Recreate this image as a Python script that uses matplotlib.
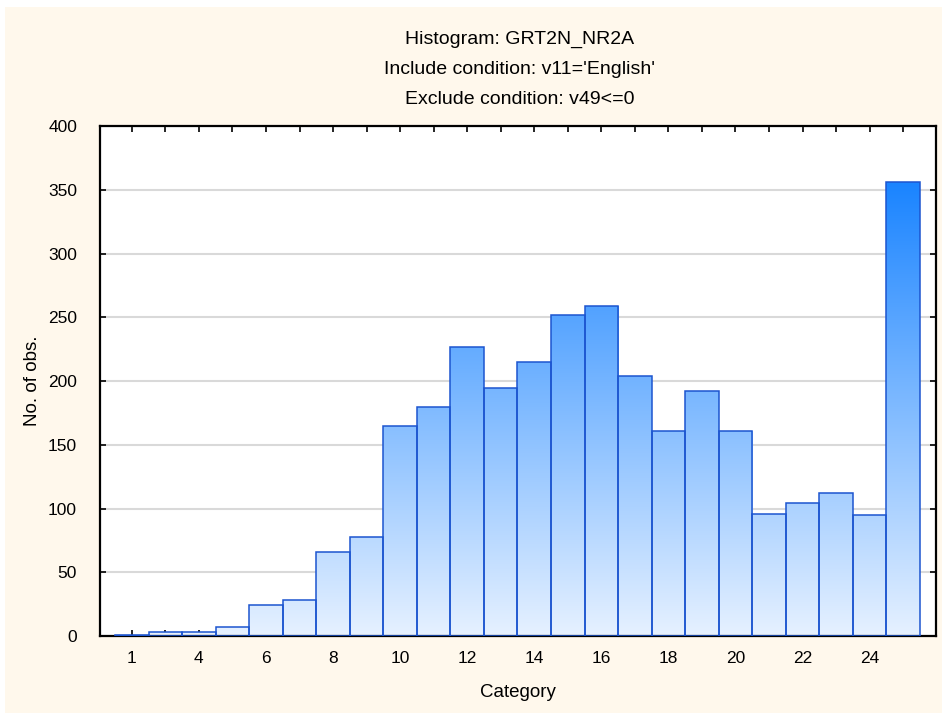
import numpy as np
import matplotlib
matplotlib.use("Agg")
import matplotlib.pyplot as plt
from matplotlib.colors import LinearSegmentedColormap
from matplotlib.patches import Rectangle

plt.rcParams['font.family'] = ['Liberation Sans', 'DejaVu Sans']

# Data
counts = [1, 3, 3, 7, 24, 28, 66, 78, 165, 180, 227, 195, 215, 252, 259, 204,
          161, 192, 161, 96, 104, 112, 95, 356]
tick_label_pos = [0, 2, 4, 6, 8, 10, 12, 14, 16, 18, 20, 22]
tick_labels = ['1', '4', '6', '8', '10', '12', '14', '16', '18', '20', '22', '24']
y_ticks = [0, 50, 100, 150, 200, 250, 300, 350, 400]
title_lines = ["Histogram: GRT2N_NR2A",
               "Include condition: v11='English'",
               "Exclude condition: v49<=0"]

W, H = 942, 715
fig = plt.figure(figsize=(W / 100, H / 100), dpi=100)
fig.patch.set_facecolor('white')
# cream background panel
fig.patches.append(Rectangle((5 / W, 2 / H), (W - 5) / W, (H - 9) / H,
                             transform=fig.transFigure, facecolor='#FFF8EC',
                             edgecolor='none', zorder=-10))

ax = fig.add_axes([100 / W, (H - 636) / H, 836 / W, (636 - 126.3) / H])
ax.set_facecolor('white')

x = np.arange(len(counts))
bars = ax.bar(x, counts, width=1.0, facecolor='none', edgecolor='#1C55D0',
              linewidth=1.1, zorder=3)

cmap = LinearSegmentedColormap.from_list('grad', ['#E6F1FF', '#1A84FF'])
grad = np.linspace(0, 1, 256).reshape(-1, 1)
for b in bars:
    im = ax.imshow(grad, cmap=cmap, origin='lower', aspect='auto',
                   extent=(-1, 25, 0, 356), zorder=2, interpolation='bilinear')
    im.set_clip_path(b)

ax.set_xlim(-0.95, 23.98)
ax.set_ylim(0, 400)

ax.set_yticks(y_ticks)
ax.set_xticks(x, minor=False)
labels_full = [''] * len(counts)
for p, l in zip(tick_label_pos, tick_labels):
    labels_full[p] = l
ax.set_xticklabels(labels_full)

ax.yaxis.grid(True, color='#D9D9D9', linewidth=1.5, zorder=1)
ax.set_axisbelow(True)

ax.tick_params(axis='both', direction='in', length=4, width=1.2,
               labelsize=12.5, colors='black', top=True, right=True)
ax.tick_params(axis='y', pad=16.5)
ax.tick_params(axis='x', pad=11)

for s in ax.spines.values():
    s.set_linewidth(1.6)
    s.set_color('black')

ax.set_xlabel('Category', fontsize=13.5, labelpad=13)
ax.set_ylabel('No. of obs.', fontsize=13.5, labelpad=5)

for i, t in enumerate(title_lines):
    fig.text(520 / W, 1 - (39 + 30 * i) / H, t, ha='center', va='center',
             fontsize=14)

fig.savefig('out.png', dpi=100, facecolor=fig.get_facecolor())
